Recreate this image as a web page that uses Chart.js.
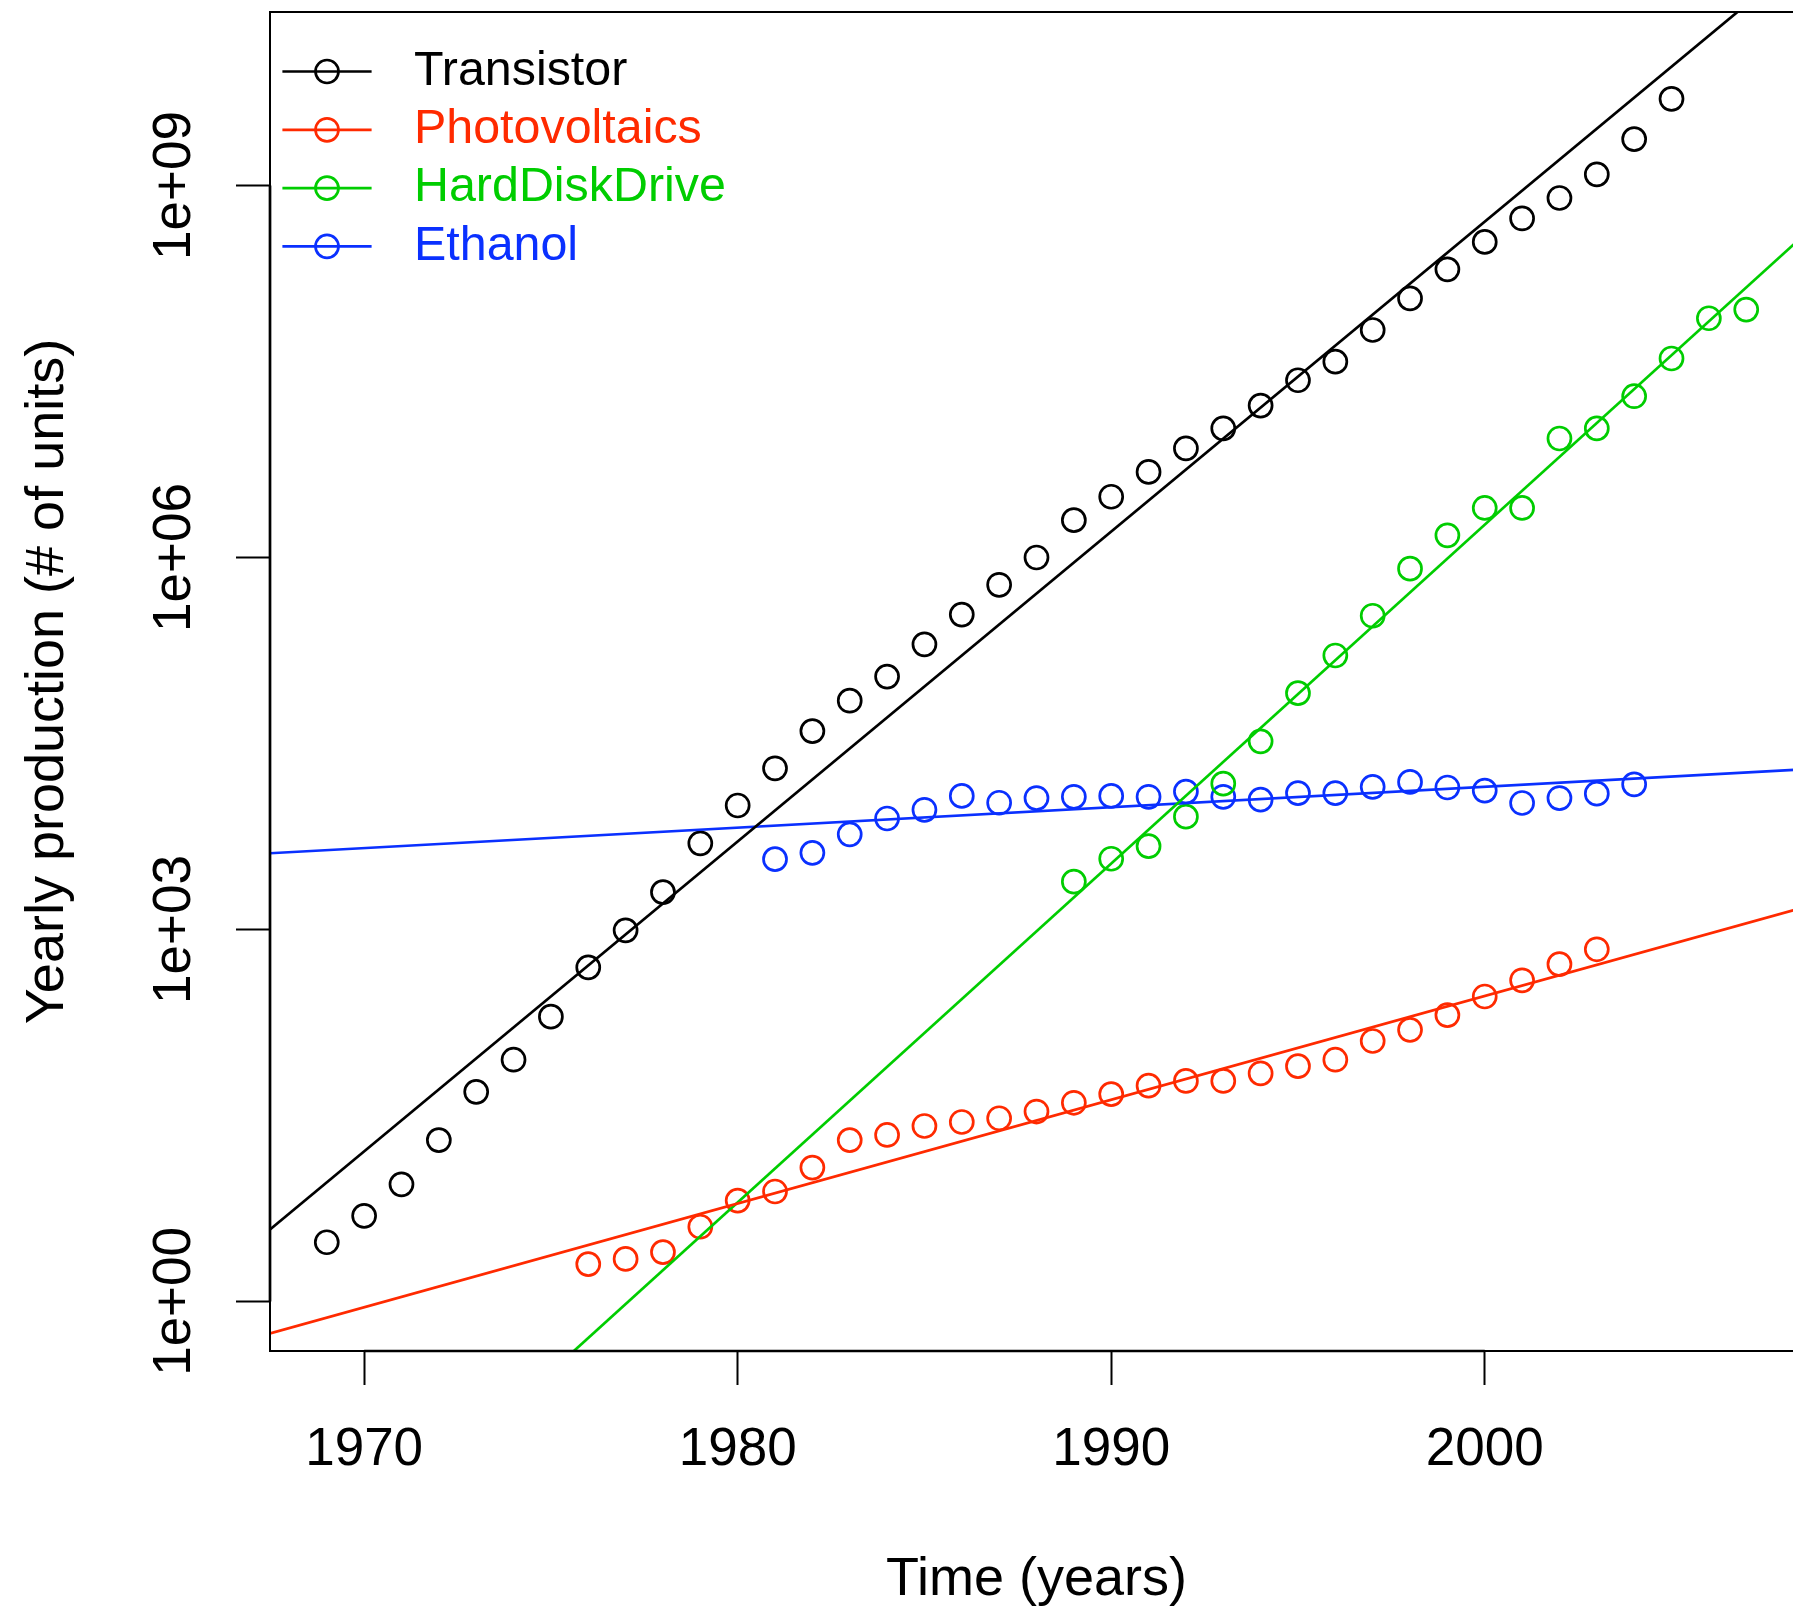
<!DOCTYPE html>
<html>
<head>
<meta charset="utf-8">
<title>Yearly production</title>
<script src="https://cdn.jsdelivr.net/npm/chart.js@4.4.1/dist/chart.umd.min.js"></script>
<style>
  html, body { margin: 0; padding: 0; background: #ffffff; overflow: hidden; }
  #wrap { position: relative; width: 1810px; height: 1609px; }
</style>
</head>
<body>
<div id="wrap"><canvas id="chart" width="1810" height="1609"></canvas></div>
<script>
// ---- data -------------------------------------------------------------
const seriesNames  = ['Transistor', 'Photovoltaics', 'HardDiskDrive', 'Ethanol'];
const seriesColors = ['#000000', '#ff2a00', '#00cd00', '#0a30ff'];

const transistorYears = [1969, 1970, 1971, 1972, 1973, 1974, 1975, 1976, 1977, 1978,
  1979, 1980, 1981, 1982, 1983, 1984, 1985, 1986, 1987, 1988, 1989, 1990, 1991, 1992,
  1993, 1994, 1995, 1996, 1997, 1998, 1999, 2000, 2001, 2002, 2003, 2004, 2005];
const transistorUnits = [3.0, 4.9, 8.8, 20, 49, 89, 198, 494, 984, 2000,
  4950, 10000, 19950, 39800, 70000, 109600, 199500, 346700, 602600, 1.0e6, 2.0e6, 3.09e6, 4.9e6, 7.59e6,
  1.10e7, 1.68e7, 2.69e7, 3.80e7, 6.84e7, 1.23e8, 2.11e8, 3.51e8, 5.43e8, 7.94e8, 1.23e9, 2.37e9, 5.01e9];

const pvYears = [1976, 1977, 1978, 1979, 1980, 1981, 1982, 1983, 1984, 1985, 1986, 1987, 1988, 1989,
  1990, 1991, 1992, 1993, 1994, 1995, 1996, 1997, 1998, 1999, 2000, 2001, 2002, 2003];
const pvUnits = [2.0, 2.2, 2.5, 4.0, 6.5, 7.7, 12, 20, 22, 26, 28, 30, 34, 40,
  47, 55, 60, 60, 69, 79, 89, 126, 155, 204, 288, 389, 525, 692];

const hddYears = [1989, 1990, 1991, 1992, 1993, 1994, 1995, 1996, 1997, 1998,
  1999, 2000, 2001, 2002, 2003, 2004, 2005, 2006, 2007];
const hddUnits = [2430, 3720, 4700, 8130, 15000, 32900, 80500, 162000, 339000, 813000,
  1.51e6, 2.51e6, 2.51e6, 9.12e6, 1.10e7, 2.0e7, 4.03e7, 8.51e7, 1.0e8];

const ethanolYears = [1981, 1982, 1983, 1984, 1985, 1986, 1987, 1988, 1989, 1990, 1991, 1992,
  1993, 1994, 1995, 1996, 1997, 1998, 1999, 2000, 2001, 2002, 2003, 2004];
const ethanolUnits = [3690, 4150, 5850, 7850, 9230, 11940, 10520, 11480, 11750, 11940, 11750, 12940,
  11750, 11140, 12590, 12590, 14130, 15490, 13960, 13180, 10470, 11480, 12450, 14790];

// exponential trend lines, given by their level at both ends of the time axis
const fitYears      = [1967.48, 2008.52];
const transistorFit = [3.8, 6.9e10];
const pvFit         = [0.552, 1503];
const hddFit        = [0.00238, 3.92e8];
const ethanolFit    = [4120, 19590];

// axes
const xTickYears  = [1970, 1980, 1990, 2000];
const yTickValues = [1, 1e3, 1e6, 1e9];
const yTickLabels = ['1e+00', '1e+03', '1e+06', '1e+09'];
const xMin = 1967.48, xMax = 2008.52;
const yMin = Math.pow(10, -0.4), yMax = Math.pow(10, 10.4);

// ---- chart -------------------------------------------------------------
const FONT = '"Liberation Sans", Arial, Helvetica, sans-serif';
Chart.defaults.font.family = FONT;
Chart.defaults.color = '#000000';

const pointYears = [transistorYears, pvYears, hddYears, ethanolYears];
const pointUnits = [transistorUnits, pvUnits, hddUnits, ethanolUnits];
const fitUnits   = [transistorFit, pvFit, hddFit, ethanolFit];

const datasets = [];
seriesNames.forEach((name, i) => {
  datasets.push({
    label: name,
    data: pointYears[i].map((yr, k) => ({ x: yr, y: pointUnits[i][k] })),
    showLine: false,
    pointStyle: 'circle',
    pointRadius: 11.5,
    pointBorderWidth: 2.7,
    pointBackgroundColor: 'rgba(0,0,0,0)',
    pointBorderColor: seriesColors[i],
    order: 1
  });
});
seriesNames.forEach((name, i) => {
  datasets.push({
    label: name + ' trend',
    data: fitYears.map((yr, k) => ({ x: yr, y: fitUnits[i][k] })),
    showLine: true,
    borderColor: seriesColors[i],
    borderWidth: 2.7,
    pointRadius: 0,
    order: 0
  });
});

// plot frame plus the axis lines that run between the outer ticks
const framePlugin = {
  id: 'frame',
  afterDraw(chart) {
    const { ctx, chartArea: a, scales: { x, y } } = chart;
    ctx.save();
    ctx.strokeStyle = '#000000';
    ctx.lineWidth = 2;
    ctx.strokeRect(a.left, a.top, a.right - a.left, a.bottom - a.top);
    ctx.lineWidth = 2.7;
    ctx.beginPath();
    ctx.moveTo(x.getPixelForValue(xTickYears[0]), a.bottom);
    ctx.lineTo(x.getPixelForValue(xTickYears[xTickYears.length - 1]), a.bottom);
    ctx.moveTo(a.left, y.getPixelForValue(yTickValues[0]));
    ctx.lineTo(a.left, y.getPixelForValue(yTickValues[yTickValues.length - 1]));
    ctx.stroke();
    ctx.restore();
  }
};

// legend: line with an open circle, coloured label
const legendPlugin = {
  id: 'lineLegend',
  afterDraw(chart) {
    const { ctx, chartArea: a } = chart;
    ctx.save();
    ctx.font = '48.4px ' + FONT;
    ctx.textBaseline = 'middle';
    ctx.textAlign = 'left';
    seriesNames.forEach((name, i) => {
      const yy = a.top + 59.5 + i * 58.3;
      ctx.strokeStyle = seriesColors[i];
      ctx.lineWidth = 2.7;
      ctx.beginPath();
      ctx.moveTo(a.left + 12.4, yy);
      ctx.lineTo(a.left + 101.6, yy);
      ctx.stroke();
      ctx.beginPath();
      ctx.arc(a.left + 57, yy, 11.5, 0, Math.PI * 2);
      ctx.stroke();
      ctx.fillStyle = seriesColors[i];
      ctx.fillText(name, a.left + 144, yy);
    });
    ctx.restore();
  }
};

new Chart(document.getElementById('chart'), {
  type: 'scatter',
  data: { datasets },
  options: {
    responsive: false,
    animation: false,
    devicePixelRatio: 1,
    layout: { autoPadding: false, padding: { top: 12, right: 7, bottom: 0, left: 0 } },
    plugins: { legend: { display: false }, tooltip: { enabled: false } },
    scales: {
      x: {
        type: 'linear',
        position: 'bottom',
        min: xMin,
        max: xMax,
        bounds: 'data',
        afterBuildTicks: s => { s.ticks = xTickYears.map(v => ({ value: v })); },
        ticks: {
          callback: (v, idx) => String(xTickYears[idx]),
          font: { size: 53 },
          color: '#000000',
          padding: 34,
          minRotation: 0,
          maxRotation: 0,
          autoSkip: false
        },
        grid: { display: true, drawOnChartArea: false, drawTicks: true, tickLength: 34, tickWidth: 2, tickColor: '#000000' },
        border: { display: false },
        title: { display: true, text: 'Time (years)', font: { size: 54 }, color: '#000000', padding: { top: 0, bottom: -4 } },
        afterFit: s => { s.height = 258; s.paddingLeft = 0; s.paddingRight = 0; }
      },
      y: {
        type: 'logarithmic',
        position: 'left',
        min: yMin,
        max: yMax,
        bounds: 'data',
        afterBuildTicks: s => { s.ticks = yTickValues.map(v => ({ value: v })); },
        ticks: {
          callback: (v, idx) => yTickLabels[idx],
          font: { size: 53 },
          color: '#000000',
          minRotation: 90,
          maxRotation: 90,
          crossAlign: 'center',
          padding: -14,
          autoSkip: false
        },
        grid: { display: true, drawOnChartArea: false, drawTicks: true, tickLength: 34, tickWidth: 2, tickColor: '#000000' },
        border: { display: false },
        title: { display: true, text: 'Yearly production (# of units)', font: { size: 54 }, color: '#000000', padding: { top: 15.5, bottom: 0 } },
        afterFit: s => { s.width = 270; s.paddingTop = 0; s.paddingBottom = 0; }
      }
    }
  },
  plugins: [framePlugin, legendPlugin]
});
</script>
</body>
</html>
